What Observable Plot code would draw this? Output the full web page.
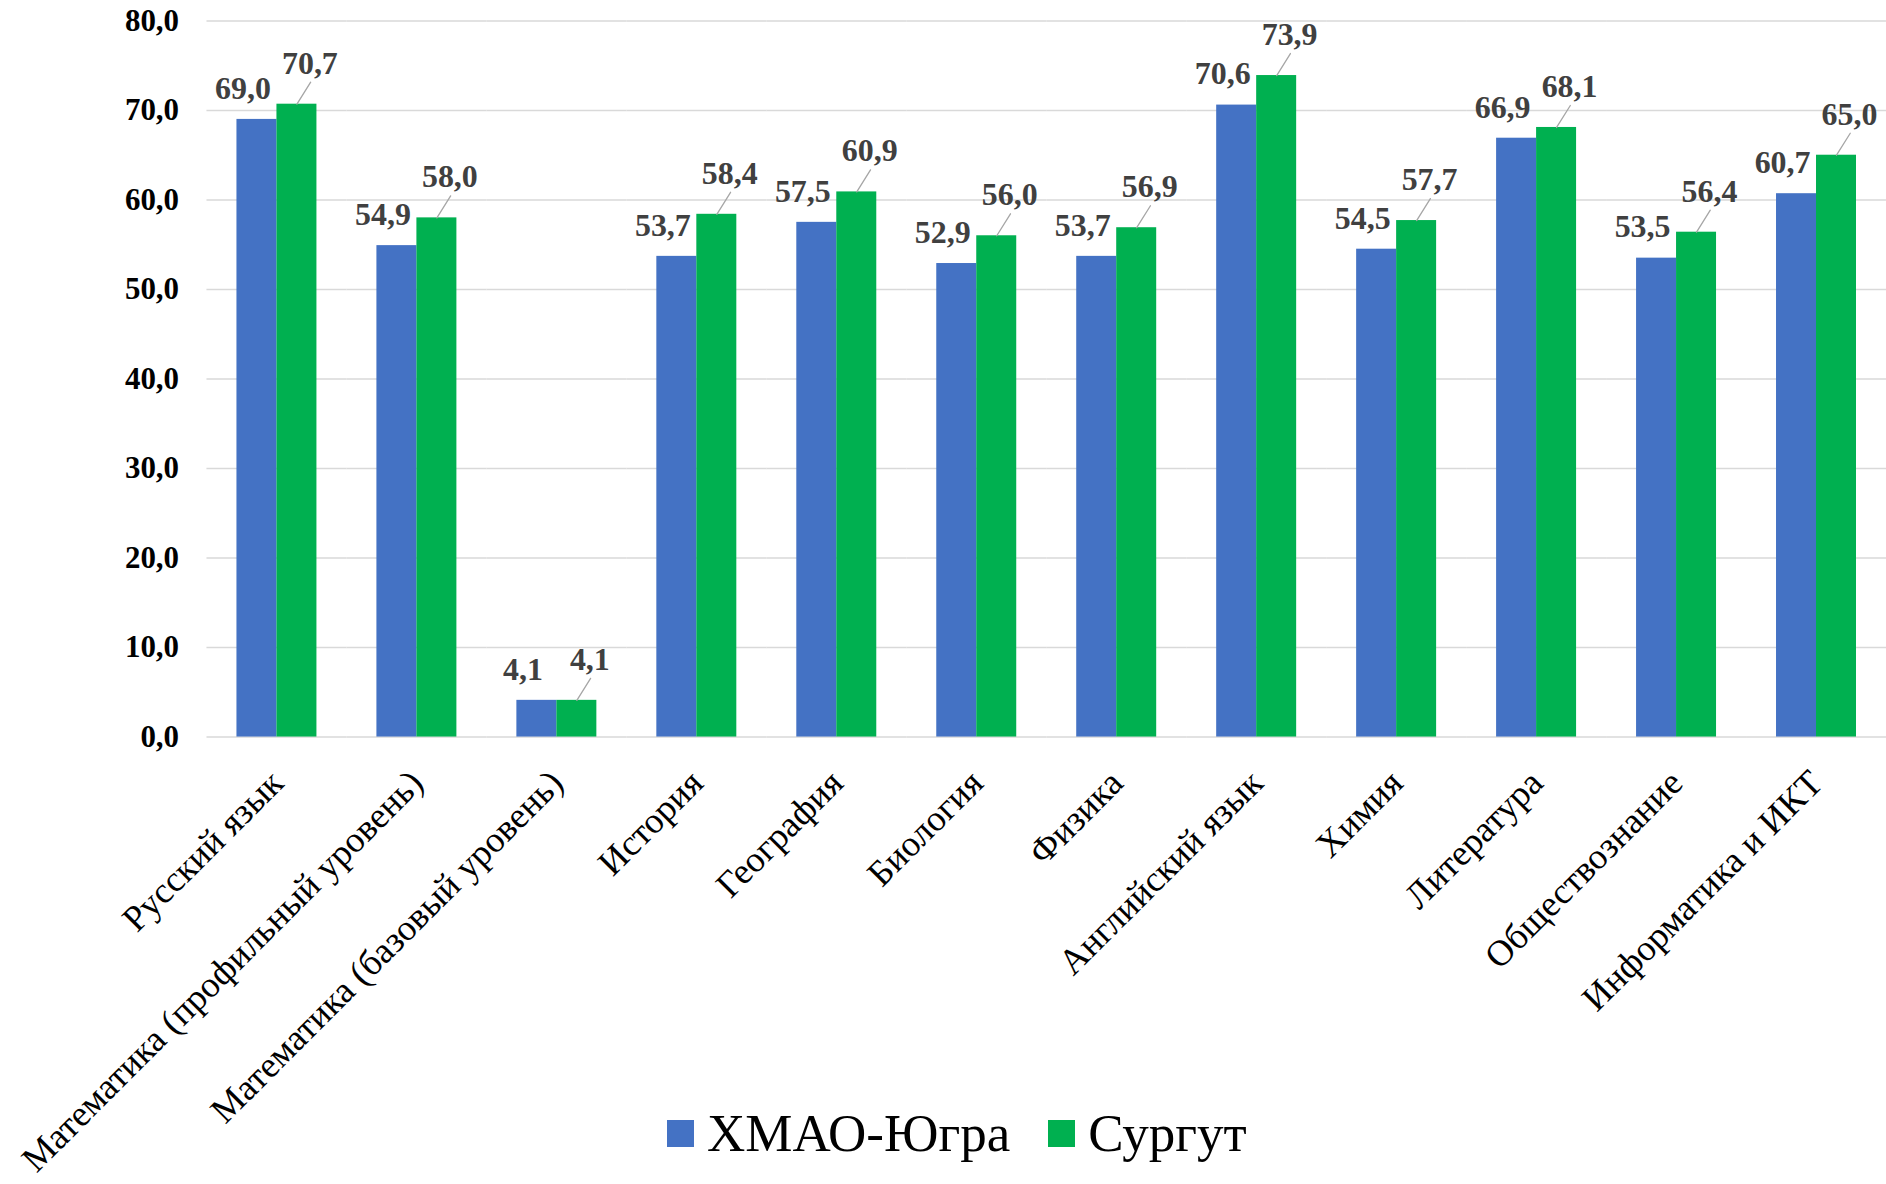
<!DOCTYPE html>
<html><head><meta charset="utf-8">
<script src="https://cdn.jsdelivr.net/npm/d3@7"></script>
<script src="https://cdn.jsdelivr.net/npm/@observablehq/plot@0.6"></script>
<style>
body{margin:0;background:#fff;}
#wrap{position:relative;width:1886px;height:1184px;overflow:hidden;}
#chart svg, #chart svg text{font-family:"Liberation Serif","Times New Roman",serif !important;}
#legend{position:absolute;left:667px;top:1108px;height:50px;display:flex;align-items:center;
  font-family:"Liberation Serif","Times New Roman",serif;font-size:53px;color:#000;white-space:nowrap;}
#legend .sw{display:inline-block;width:27px;height:27px;margin-right:13px;}
#legend .item{display:flex;align-items:center;margin-right:38px;}
</style></head><body>
<div id="wrap"><div id="chart"></div><div id="legend"></div></div>
<script>
const categories = ["Русский язык","Математика (профильный уровень)","Математика (базовый уровень)","История","География","Биология","Физика","Английский язык","Химия","Литература","Обществознание","Информатика и ИКТ"];
const seriesNames = ["ХМАО-Югра","Сургут"];
const hmao = [69.0,54.9,4.1,53.7,57.5,52.9,53.7,70.6,54.5,66.9,53.5,60.7];
const surgut = [70.7,58.0,4.1,58.4,60.9,56.0,56.9,73.9,57.7,68.1,56.4,65.0];
const colors = ["#4472C4","#00B050"];
const yTicks = [0,10,20,30,40,50,60,70,80];

const data = categories.flatMap((c,i)=>[
  {category:c, series:seriesNames[0], value:hmao[i]},
  {category:c, series:seriesNames[1], value:surgut[i]}
]);
const blueData = data.filter(d=>d.series===seriesNames[0]);
const greenData = data.filter(d=>d.series===seriesNames[1]);
const fmt = v => v.toFixed(1).replace(".", ",");
const serif = '"Liberation Serif","Times New Roman",serif';

const chart = Plot.plot({
  width:1891, height:1184,
  marginLeft:207, marginRight:0, marginTop:20.5, marginBottom:445.5,
  style:{fontFamily:serif, background:"white", overflow:"visible"},
  fx:{domain:categories, paddingInner:0, paddingOuter:0, round:false, label:null},
  x:{domain:seriesNames, paddingInner:0, paddingOuter:0.75, round:false, axis:null},
  y:{domain:[0,80], label:null},
  color:{domain:seriesNames, range:colors},
  marks:[
    Plot.ruleY(yTicks, {stroke:"#d9d9d9", strokeOpacity:1, strokeWidth:1.6}),
    Plot.barY(data,{fx:"category", x:"series", y:"value", fill:"series"}),
    Plot.vector(greenData, {fx:"category", x:"series", y:"value", length:26, rotate:32, anchor:"start",
      stroke:"#a6a6a6", strokeWidth:1.3,
      shape:{draw(ctx,l){ctx.moveTo(0,0); ctx.lineTo(0,-l);}}}),
    Plot.axisY({ticks:yTicks, tickFormat:fmt, tickSize:0, tickPadding:28, fontSize:31, fontWeight:"bold",
      fontFamily:serif, label:null, fill:"black"}),
    Plot.axisFx({anchor:"bottom", tickRotate:-45, tickSize:0, tickPadding:40, fontSize:36.5,
      fontFamily:serif, label:null, fill:"black"}),
    Plot.text(blueData, {fx:"category", x:"series", y:"value", text:d=>fmt(d.value), dx:-14, dy:-31,
      fontSize:32, fontWeight:"bold", fontFamily:serif, fill:"#404040"}),
    Plot.text(greenData, {fx:"category", x:"series", y:"value", text:d=>fmt(d.value), dx:13, dy:-41,
      fontSize:32, fontWeight:"bold", fontFamily:serif, fill:"#404040"})
  ]
});
document.getElementById("chart").appendChild(chart);

const legend = document.getElementById("legend");
seriesNames.forEach((name,i)=>{
  const item = document.createElement("div");
  item.className = "item";
  const sw = document.createElement("span");
  sw.className = "sw";
  sw.style.background = colors[i];
  const t = document.createElement("span");
  t.textContent = name;
  item.appendChild(sw); item.appendChild(t);
  legend.appendChild(item);
});
</script>
</body></html>
